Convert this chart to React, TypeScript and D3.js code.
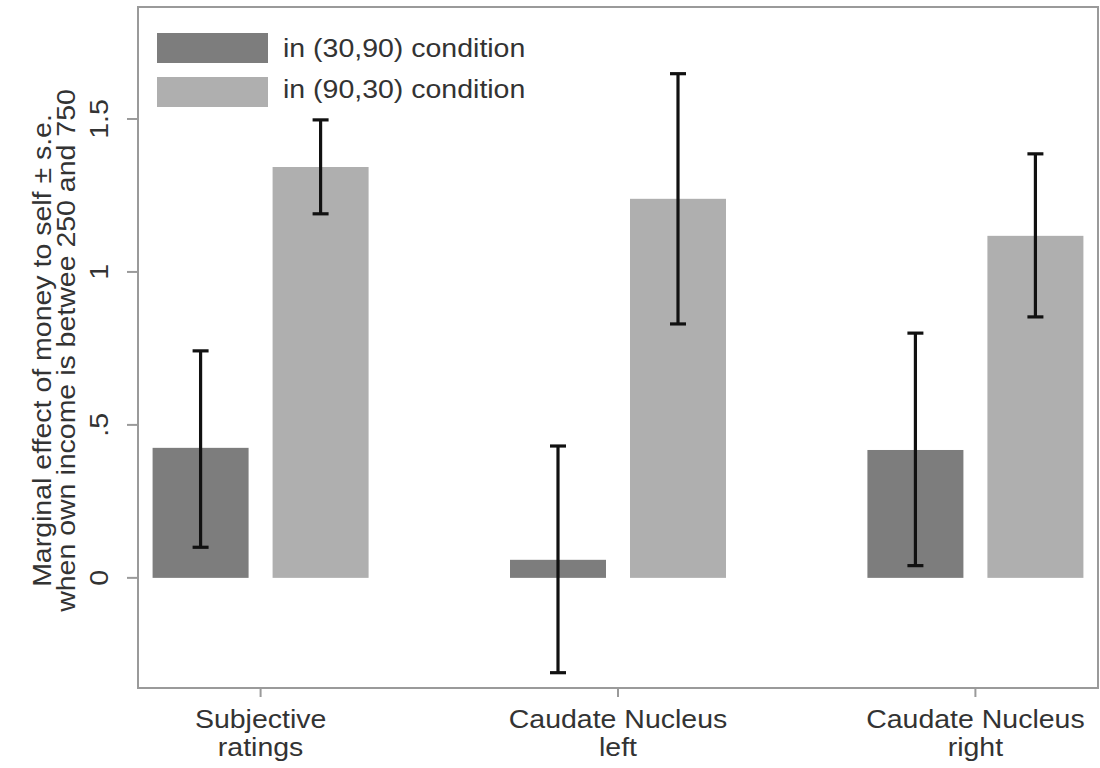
import { useRef, useEffect } from 'react';
import * as d3 from 'd3';

const categories = [['Subjective', 'ratings'], ['Caudate Nucleus', 'left'], ['Caudate Nucleus', 'right']];
const seriesNames = ['in (30,90) condition', 'in (90,30) condition'];
const seriesColors = ['#7d7d7d', '#afafaf'];
// [mean, lower, upper] per category
const cond3090 = [
  [0.425, 0.10, 0.742],
  [0.059, -0.31, 0.431],
  [0.418, 0.04, 0.80],
];
const cond9030 = [
  [1.343, 1.19, 1.497],
  [1.239, 0.83, 1.648],
  [1.118, 0.853, 1.386],
];
const yTicks = [0, 0.5, 1, 1.5];
const yTickLabels = ['0', '.5', '1', '1.5'];
const yTitle = ['Marginal effect of money to self \u00b1 s.e.', 'when own income is betwee 250 and 750'];

export default function App() {
  const svgRef = useRef<SVGSVGElement>(null);

  useEffect(() => {
    if (!svgRef.current) return;
    const svg = d3.select(svgRef.current);
    svg.selectAll('*').remove();

    const left = 138, right = 1098, top = 7, bottom = 688;
    const font = '"Liberation Sans", Arial, Helvetica, sans-serif';
    const textColor = '#333';
    const fs = 25;
    const stretch = 1.14; // glyphs in the source are a bit wide

    const x = d3.scalePoint<number>().domain([0, 1, 2]).range([left, right]).padding(0.343);
    const inner = d3.scaleBand<number>().domain([0, 1]).range([-108, 108]).paddingInner(0.2);
    const y = d3.scaleLinear().domain([-0.36, 1.866]).range([bottom, top]);

    const label = (tx: number, ty: number, rot: number, anchor: string, s: string) =>
      svg.append('text')
        .attr('transform', `translate(${tx},${ty}) rotate(${rot}) scale(${stretch},1)`)
        .attr('text-anchor', anchor)
        .attr('font-family', font).attr('font-size', fs)
        .attr('fill', textColor)
        .text(s);

    svg.append('rect').attr('width', 1100).attr('height', 768).attr('fill', '#fff');

    const series = [cond3090, cond9030];

    // bars
    series.forEach((s, si) => {
      svg.append('g')
        .selectAll('rect')
        .data(s)
        .join('rect')
        .attr('x', (_, i) => x(i)! + inner(si)!)
        .attr('width', inner.bandwidth())
        .attr('y', (d) => Math.min(y(d[0]), y(0)))
        .attr('height', (d) => Math.abs(y(d[0]) - y(0)))
        .attr('fill', seriesColors[si]);
    });

    // error bars
    series.forEach((s, si) => {
      s.forEach((d, i) => {
        const cx = x(i)! + inner(si)! + inner.bandwidth() / 2;
        const g = svg.append('g').attr('stroke', '#111').attr('stroke-width', 3.2);
        g.append('line').attr('x1', cx).attr('x2', cx).attr('y1', y(d[1])).attr('y2', y(d[2]));
        g.append('line').attr('x1', cx - 8).attr('x2', cx + 8).attr('y1', y(d[1])).attr('y2', y(d[1]));
        g.append('line').attr('x1', cx - 8).attr('x2', cx + 8).attr('y1', y(d[2])).attr('y2', y(d[2]));
      });
    });

    // frame
    svg.append('rect')
      .attr('x', left).attr('y', top)
      .attr('width', right - left).attr('height', bottom - top)
      .attr('fill', 'none').attr('stroke', '#9a9a9a').attr('stroke-width', 2);

    // y axis ticks + labels (rotated)
    yTicks.forEach((t, i) => {
      svg.append('line')
        .attr('x1', left - 11).attr('x2', left)
        .attr('y1', y(t)).attr('y2', y(t))
        .attr('stroke', '#9a9a9a').attr('stroke-width', 2);
      label(108, y(t), -90, 'middle', yTickLabels[i]);
    });

    // y title
    yTitle.forEach((line, i) => {
      label(51 + i * 24, (top + bottom) / 2 + 3, -90, 'middle', line);
    });

    // x ticks + labels
    categories.forEach((lines, i) => {
      svg.append('line')
        .attr('x1', x(i)!).attr('x2', x(i)!)
        .attr('y1', bottom).attr('y2', bottom + 9)
        .attr('stroke', '#9a9a9a').attr('stroke-width', 2);
      lines.forEach((l, j) => {
        label(x(i)!, 728 + j * 28, 0, 'middle', l);
      });
    });

    // legend
    seriesNames.forEach((name, i) => {
      svg.append('rect')
        .attr('x', 157).attr('y', 33 + i * 44)
        .attr('width', 111).attr('height', 30)
        .attr('fill', seriesColors[i]);
      label(283, 57 + i * 41, 0, 'start', name);
    });
  }, []);

  return (
    <svg ref={svgRef} width={1100} height={768} style={{ position: 'absolute', left: 0, top: 0 }} />
  );
}
